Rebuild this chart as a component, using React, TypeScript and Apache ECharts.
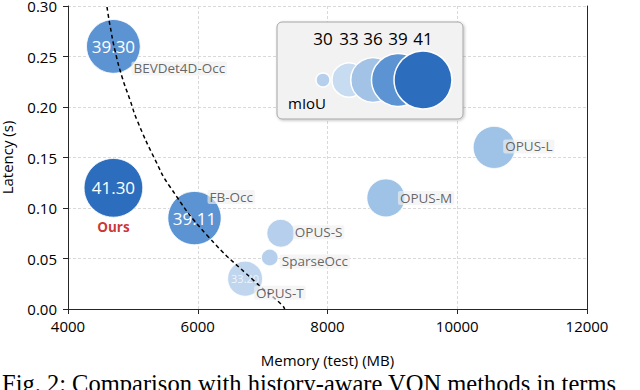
import React, { useEffect, useRef } from "react";
import * as echarts from "echarts";

const names = ["BEVDet4D-Occ", "Ours", "FB-Occ", "OPUS-L", "OPUS-M", "OPUS-S", "SparseOcc", "OPUS-T"];
const memory = [4700, 4700, 5950, 10570, 8900, 7280, 7110, 6730];
const latency = [0.26, 0.12, 0.09, 0.16, 0.11, 0.075, 0.051, 0.03];
const miou = [39.3, 41.3, 39.11, 35.2, 34.0, 31.6, 30.1, 33.2];
const showValue = [true, true, true, false, false, false, false, true];

const legendValues = [30, 33, 36, 39, 41];

// Pareto frontier (dashed)
const frontierX = [4601, 4647, 4724, 4832, 4956, 5064, 5341, 5572, 6143, 6883, 7299, 7340];
const frontierY = [0.299, 0.281, 0.256, 0.23, 0.207, 0.187, 0.148, 0.121, 0.073, 0.027, 0.004, 0.0];

const xTicks = { min: 4000, max: 12000, interval: 2000 };
const yTicks = { min: 0, max: 0.3, interval: 0.05 };

const FONT = "Open Sans";

function radius(m: number) {
  const t = Math.max(0, (m - 30) / 11);
  return 7 + 22 * Math.pow(t, 0.6);
}
function colorOf(m: number) {
  if (m >= 40) return "#2c6ebd";
  if (m >= 37) return "#5b93d3";
  if (m >= 34) return "#9fc2e7";
  if (m >= 32.5) return "#c0d6ee";
  return "#b5cfec";
}

// label placement (pixel offsets from bubble centre)
const labelPlace: Record<string, { off: [number, number]; align: string }> = {
  "BEVDet4D-Occ": { off: [18, 22], align: "left" },
  Ours: { off: [0, 39], align: "center" },
  "FB-Occ": { off: [13, -21], align: "left" },
  "OPUS-L": { off: [9, -1], align: "left" },
  "OPUS-M": { off: [12, 0], align: "left" },
  "OPUS-S": { off: [12, -1], align: "left" },
  SparseOcc: { off: [10, 4], align: "left" },
  "OPUS-T": { off: [9, 14], align: "left" },
};

export default function App() {
  const ref = useRef<HTMLDivElement>(null);
  useEffect(() => {
    document.body.style.margin = "0";
    if (!ref.current) return;
    const chart = echarts.init(ref.current, null, { renderer: "svg" });

    const bubbleData = names.map((n, i) => ({
      name: n,
      value: [memory[i], latency[i], miou[i]],
      symbolSize: 2 * radius(miou[i]),
      itemStyle: { color: colorOf(miou[i]) },
      label: {
        show: showValue[i],
        formatter: miou[i].toFixed(2),
        color: n === "OPUS-T" ? "rgba(255,255,255,0.75)" : "#ffffff",
        fontSize: n === "OPUS-T" ? 11 : 17,
      },
    }));

    const nameData = names.map((n, i) => {
      const p = labelPlace[n];
      const ours = n === "Ours";
      return {
        name: n,
        value: [memory[i], latency[i]],
        label: {
          show: true,
          formatter: n,
          position: "inside",
          align: p.align,
          verticalAlign: "middle",
          offset: p.off,
          color: ours ? "#c00000" : "#404040",
          fontWeight: ours ? "bold" : "normal",
          fontSize: 13.5,
          fontFamily: FONT,
          backgroundColor: ours ? "transparent" : "rgba(240,240,240,0.8)",
          padding: ours ? 0 : [0, 2],
          borderRadius: 2,
        },
      };
    });

    const legendX = [323, 349, 373, 398, 423];
    const legendGraphics: any[] = [
      {
        type: "rect",
        shape: { x: 277, y: 22, width: 186, height: 97, r: 5 },
        style: { fill: "#f2f2f2", stroke: "#a6a6a6", lineWidth: 1, shadowBlur: 3, shadowColor: "rgba(0,0,0,0.25)", shadowOffsetX: 1, shadowOffsetY: 1 },
        z: 10,
      },
    ];
    legendValues.forEach((v, i) => {
      legendGraphics.push({
        type: "circle",
        shape: { cx: legendX[i], cy: 80, r: radius(v) },
        style: { fill: v === 33 ? "#c8dcf1" : v === 36 ? "#a3c3e6" : colorOf(v), stroke: "#ffffff", lineWidth: 1.5 },
        z: 11,
      });
      legendGraphics.push({
        type: "text",
        x: legendX[i],
        y: 38,
        style: { text: String(v), font: `17px "${FONT}"`, fill: "#000000", align: "center", verticalAlign: "middle" },
        z: 12,
      });
    });
    legendGraphics.push({
      type: "text",
      x: 288,
      y: 103,
      style: { text: "mIoU", font: `15px "${FONT}"`, fill: "#000000", align: "left", verticalAlign: "middle" },
      z: 12,
    });
    legendGraphics.push({
      type: "text",
      x: 2,
      y: 371,
      style: {
        text: "Fig. 2: Comparison with history-aware VON methods in terms",
        font: '24.5px "Liberation Serif"',
        fill: "#000000",
        align: "left",
        verticalAlign: "top",
      },
      z: 12,
    });

    const frameAxis = {
      show: true,
      z: 5,
      axisLine: { show: true, lineStyle: { color: "#262626", width: 1 } },
      axisTick: { show: false },
      axisLabel: { show: false },
      splitLine: { show: false },
    };

    chart.setOption({
      animation: false,
      backgroundColor: "#ffffff",
      textStyle: { fontFamily: FONT },
      grid: {
        left: 68,
        right: 53,
        top: 6,
        bottom: 81,
        containLabel: false,
        outerBoundsMode: "none",
      },
      xAxis: [
        {
          type: "value",
          min: xTicks.min,
          max: xTicks.max,
          interval: xTicks.interval,
          name: "Memory (test) (MB)",
          nameLocation: "middle",
          nameGap: 43,
          nameTextStyle: { fontSize: 15, color: "#000", fontFamily: FONT },
          axisLine: { show: true, lineStyle: { color: "#262626", width: 1 } },
          axisTick: { show: true, length: 5, lineStyle: { color: "#262626" } },
          axisLabel: { fontSize: 15, color: "#000", margin: 9, fontFamily: FONT, formatter: (v: number) => String(v) },
          splitLine: { show: true, lineStyle: { color: "#d9d9d9", type: [3, 2], width: 1 } },
        },
        { ...frameAxis, type: "value", position: "top", min: xTicks.min, max: xTicks.max, interval: xTicks.interval },
      ],
      yAxis: [
        {
          type: "value",
          min: yTicks.min,
          max: yTicks.max,
          interval: yTicks.interval,
          name: "Latency (s)",
          nameLocation: "middle",
          nameGap: 54,
          nameTextStyle: { fontSize: 15, color: "#000", fontFamily: FONT },
          axisLine: { show: true, lineStyle: { color: "#262626", width: 1 } },
          axisTick: { show: true, length: 5, lineStyle: { color: "#262626" } },
          axisLabel: { fontSize: 15, color: "#000", margin: 11, fontFamily: FONT, formatter: (v: number) => v.toFixed(2) },
          splitLine: { show: true, lineStyle: { color: "#d9d9d9", type: [3, 2], width: 1 } },
        },
        { ...frameAxis, type: "value", position: "right", min: yTicks.min, max: yTicks.max, interval: yTicks.interval },
      ],
      graphic: legendGraphics,
      series: [
        {
          type: "scatter",
          z: 2,
          data: bubbleData,
          itemStyle: { borderColor: "rgba(255,255,255,0.8)", borderWidth: 1, opacity: 1 },
          label: { show: true, position: "inside", fontFamily: FONT },
          silent: true,
        },
        {
          type: "line",
          z: 3,
          data: frontierX.map((x, i) => [x, frontierY[i]]),
          smooth: true,
          showSymbol: false,
          symbol: "none",
          lineStyle: { color: "#000000", width: 1.5, type: [4, 3] },
          silent: true,
        },
        {
          type: "scatter",
          z: 4,
          data: nameData,
          symbolSize: 1,
          itemStyle: { color: "transparent" },
          silent: true,
        },
      ],
    });
    return () => chart.dispose();
  }, []);
  return <div ref={ref} style={{ width: 640, height: 390 }} />;
}
